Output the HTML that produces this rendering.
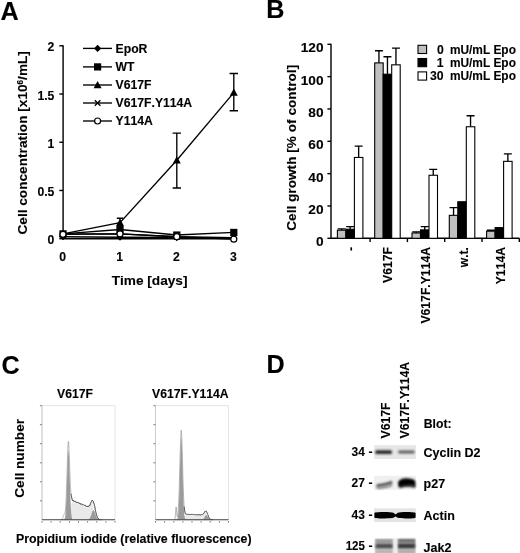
<!DOCTYPE html>
<html lang="en"><head><meta charset="utf-8"><title>Figure</title>
<style>
html,body{margin:0;padding:0;background:#fff;}
svg{display:block;}
text{font-kerning:none;font-feature-settings:'kern' 0;font-family:"Liberation Sans",Arial,Helvetica,sans-serif;font-weight:bold;fill:#000;stroke:#000;stroke-width:0.12px;}
.s{font-size:12.2px;}
.t{font-size:13.65px;}
.p{font-size:25.2px;}
.ln{stroke:#000;stroke-width:1.35;fill:none;}
.ax{stroke:#000;stroke-width:1.4;fill:none;}
</style></head><body>
<svg width="520" height="553" viewBox="0 0 520 553">
<defs>
<filter id="b1" x="-20%" y="-60%" width="140%" height="220%"><feGaussianBlur stdDeviation="0.9"/></filter>
<filter id="b2" x="-20%" y="-60%" width="140%" height="220%"><feGaussianBlur stdDeviation="1.3"/></filter>
<filter id="b0" x="-20%" y="-60%" width="140%" height="220%"><feGaussianBlur stdDeviation="0.6"/></filter>
</defs>
<rect width="520" height="553" fill="#fff"/>

<text class="p" x="0.5" y="19.7">A</text>
<text class="p" x="266.2" y="18.3">B</text>
<text class="p" x="1.5" y="374.2">C</text>
<text class="p" x="266.4" y="372.8">D</text>
<g id="panelA">
<path class="ax" d="M63.1 45.199999999999996V238.7H233.8"/>
<path class="ax" d="M59.300000000000004 238.70H63.1"/>
<text class="s" x="54.4" y="244.30" text-anchor="end">0</text>
<path class="ax" d="M59.300000000000004 190.47H63.1"/>
<text class="s" x="54.4" y="196.07" text-anchor="end">0.5</text>
<path class="ax" d="M59.300000000000004 142.25H63.1"/>
<text class="s" x="54.4" y="147.85" text-anchor="end">1</text>
<path class="ax" d="M59.300000000000004 94.03H63.1"/>
<text class="s" x="54.4" y="99.62" text-anchor="end">1.5</text>
<path class="ax" d="M59.300000000000004 45.80H63.1"/>
<text class="s" x="54.4" y="51.40" text-anchor="end">2</text>
<text class="s" x="62.7" y="260.6" text-anchor="middle">0</text>
<text class="s" x="119.7" y="260.6" text-anchor="middle">1</text>
<text class="s" x="176.5" y="260.6" text-anchor="middle">2</text>
<text class="s" x="233.5" y="260.6" text-anchor="middle">3</text>
<text class="t" x="149.6" y="285" text-anchor="middle">Time [days]</text>
<text class="t" transform="translate(27.2 142.8) rotate(-90)" text-anchor="middle">Cell concentration [x10<tspan font-size="8.2" dy="-4.6">6</tspan><tspan dy="4.6">/mL]</tspan></text>
<path class="ln" d="M233.8 73.5V110.7M229.60000000000002 73.5H238.0M229.60000000000002 110.7H238.0"/>
<path class="ln" d="M176.8 133.1V188.0M172.60000000000002 133.1H181.0M172.60000000000002 188.0H181.0"/>
<path class="ln" d="M120.0 218.2V227.5M116.8 218.2H123.2M116.8 227.5H123.2"/>
<polyline class="ln" stroke-width="1.3" points="63.0,236.77 120.0,237.25 176.8,237.54 233.8,238.70"/>
<polyline class="ln" stroke-width="1.3" points="63.0,233.88 120.0,229.54 176.8,235.03 233.8,232.43"/>
<polyline class="ln" stroke-width="1.3" points="63.0,233.88 120.0,222.69 176.8,160.19 233.8,92.58"/>
<polyline class="ln" stroke-width="1.3" points="63.0,233.88 120.0,233.88 176.8,236.77 233.8,237.74"/>
<polyline class="ln" stroke-width="1.3" points="63.0,234.36 120.0,233.88 176.8,236.77 233.8,239.18"/>
<path d="M63.0 233.17000000000002L66.6 236.77L63.0 240.37L59.4 236.77Z" fill="#000"/>
<path d="M120.0 233.65L123.6 237.25L120.0 240.85L116.4 237.25Z" fill="#000"/>
<path d="M176.8 233.94L180.4 237.54L176.8 241.14L173.20000000000002 237.54Z" fill="#000"/>
<path d="M233.8 235.1L237.4 238.7L233.8 242.29999999999998L230.20000000000002 238.7Z" fill="#000"/>
<rect x="59.40" y="230.28" width="7.2" height="7.2" fill="#000"/>
<rect x="116.40" y="225.94" width="7.2" height="7.2" fill="#000"/>
<rect x="173.20" y="231.43" width="7.2" height="7.2" fill="#000"/>
<rect x="230.20" y="228.83" width="7.2" height="7.2" fill="#000"/>
<path d="M63.0 229.88L67.0 237.07999999999998L59.0 237.07999999999998Z" fill="#000"/>
<path d="M120.0 218.69L124.0 225.89L116.0 225.89Z" fill="#000"/>
<path d="M176.8 156.19L180.8 163.39L172.8 163.39Z" fill="#000"/>
<path d="M233.8 88.58L237.8 95.78L229.8 95.78Z" fill="#000"/>
<path class="ln" stroke-width="1" d="M60.2 231.07999999999998L65.8 236.68M60.2 236.68L65.8 231.07999999999998"/>
<path class="ln" stroke-width="1" d="M117.2 231.07999999999998L122.8 236.68M117.2 236.68L122.8 231.07999999999998"/>
<path class="ln" stroke-width="1" d="M174.0 233.97L179.60000000000002 239.57000000000002M174.0 239.57000000000002L179.60000000000002 233.97"/>
<path class="ln" stroke-width="1" d="M231.0 234.94L236.60000000000002 240.54000000000002M231.0 240.54000000000002L236.60000000000002 234.94"/>
<circle cx="63.0" cy="234.36" r="3" fill="#fff" stroke="#000" stroke-width="1.2"/>
<circle cx="120.0" cy="233.88" r="3" fill="#fff" stroke="#000" stroke-width="1.2"/>
<circle cx="176.8" cy="236.77" r="3" fill="#fff" stroke="#000" stroke-width="1.2"/>
<circle cx="233.8" cy="239.18" r="3" fill="#fff" stroke="#000" stroke-width="1.2"/>
<path class="ln" d="M83 48.4H112"/>
<path d="M97.6 44.8L101.19999999999999 48.4L97.6 52.0L94.0 48.4Z" fill="#000"/>
<text class="s" x="115.6" y="52.8">EpoR</text>
<path class="ln" d="M83 66.9H112"/>
<rect x="94.00" y="63.30" width="7.2" height="7.2" fill="#000"/>
<text class="s" x="115.6" y="71.3">WT</text>
<path class="ln" d="M83 85.0H112"/>
<path d="M97.6 81.0L101.6 88.2L93.6 88.2Z" fill="#000"/>
<text class="s" x="115.6" y="89.4">V617F</text>
<path class="ln" d="M83 103.0H112"/>
<path class="ln" stroke-width="1" d="M94.8 100.2L100.39999999999999 105.8M94.8 105.8L100.39999999999999 100.2"/>
<text class="s" x="115.6" y="107.4">V617F.Y114A</text>
<path class="ln" d="M83 121.0H112"/>
<circle cx="97.6" cy="121.0" r="3" fill="#fff" stroke="#000" stroke-width="1.2"/>
<text class="s" x="115.6" y="125.4">Y114A</text>
</g>
<g id="panelB">
<path class="ax" d="M331.0 43.699999999999996V238.3H519.4"/>
<path class="ax" d="M327.4 238.30H331.0"/>
<text class="t" x="323.5" y="246.30" text-anchor="end">0</text>
<path class="ax" d="M327.4 205.97H331.0"/>
<text class="t" x="323.5" y="213.97" text-anchor="end">20</text>
<path class="ax" d="M327.4 173.63H331.0"/>
<text class="t" x="323.5" y="181.63" text-anchor="end">40</text>
<path class="ax" d="M327.4 141.30H331.0"/>
<text class="t" x="323.5" y="149.30" text-anchor="end">60</text>
<path class="ax" d="M327.4 108.97H331.0"/>
<text class="t" x="323.5" y="116.97" text-anchor="end">80</text>
<path class="ax" d="M327.4 76.63H331.0"/>
<text class="t" x="323.5" y="84.63" text-anchor="end">100</text>
<path class="ax" d="M327.4 44.30H331.0"/>
<text class="t" x="323.5" y="52.30" text-anchor="end">120</text>
<path class="ax" d="M370.10 238.3V242.10000000000002"/>
<path class="ax" d="M407.40 238.3V242.10000000000002"/>
<path class="ax" d="M444.70 238.3V242.10000000000002"/>
<path class="ax" d="M482.00 238.3V242.10000000000002"/>
<path class="ax" d="M519.30 238.3V242.10000000000002"/>
<text class="t" transform="translate(296.1 147.8) rotate(-90)" text-anchor="middle">Cell growth [% of control]</text>
<path class="ln" d="M341.65 230.22V228.92M337.65 228.92H345.65"/>
<rect x="337.40" y="230.22" width="8.5" height="8.08" fill="#c0c0c0" stroke="#000" stroke-width="1.1"/>
<path class="ln" d="M350.15 229.25V226.66M346.15 226.66H354.15"/>
<rect x="345.90" y="229.25" width="8.5" height="9.05" fill="#000" stroke="#000" stroke-width="1.1"/>
<path class="ln" d="M358.65 157.47V146.15M354.65 146.15H362.65"/>
<rect x="354.40" y="157.47" width="8.5" height="80.83" fill="#fff" stroke="#000" stroke-width="1.1"/>
<text class="s" transform="translate(354.75 247) rotate(-90)" text-anchor="end">-</text>
<path class="ln" d="M378.95 62.89V50.77M374.95 50.77H382.95"/>
<rect x="374.70" y="62.89" width="8.5" height="175.41" fill="#c0c0c0" stroke="#000" stroke-width="1.1"/>
<path class="ln" d="M387.45 74.21V56.75M383.45 56.75H391.45"/>
<rect x="383.20" y="74.21" width="8.5" height="164.09" fill="#000" stroke="#000" stroke-width="1.1"/>
<path class="ln" d="M395.95 64.83V48.18M391.95 48.18H399.95"/>
<rect x="391.70" y="64.83" width="8.5" height="173.47" fill="#fff" stroke="#000" stroke-width="1.1"/>
<text class="s" transform="translate(392.25 247) rotate(-90)" text-anchor="end">V617F</text>
<path class="ln" d="M416.25 232.97V231.83M412.25 231.83H420.25"/>
<rect x="412.00" y="232.97" width="8.5" height="5.34" fill="#c0c0c0" stroke="#000" stroke-width="1.1"/>
<path class="ln" d="M424.75 229.89V226.66M420.75 226.66H428.75"/>
<rect x="420.50" y="229.89" width="8.5" height="8.41" fill="#000" stroke="#000" stroke-width="1.1"/>
<path class="ln" d="M433.25 175.25V169.43M429.25 169.43H437.25"/>
<rect x="429.00" y="175.25" width="8.5" height="63.05" fill="#fff" stroke="#000" stroke-width="1.1"/>
<text class="s" transform="translate(430.15 247) rotate(-90)" text-anchor="end">V617F.Y114A</text>
<path class="ln" d="M453.55 215.34V207.58M449.55 207.58H457.55"/>
<rect x="449.30" y="215.34" width="8.5" height="22.96" fill="#c0c0c0" stroke="#000" stroke-width="1.1"/>
<rect x="457.80" y="201.76" width="8.5" height="36.54" fill="#000" stroke="#000" stroke-width="1.1"/>
<path class="ln" d="M470.55 126.75V115.76M466.55 115.76H474.55"/>
<rect x="466.30" y="126.75" width="8.5" height="111.55" fill="#fff" stroke="#000" stroke-width="1.1"/>
<text class="s" transform="translate(467.65 247) rotate(-90)" text-anchor="end">w.t.</text>
<path class="ln" d="M490.85 231.19V230.22M486.85 230.22H494.85"/>
<rect x="486.60" y="231.19" width="8.5" height="7.11" fill="#c0c0c0" stroke="#000" stroke-width="1.1"/>
<rect x="495.10" y="227.63" width="8.5" height="10.67" fill="#000" stroke="#000" stroke-width="1.1"/>
<path class="ln" d="M507.85 161.35V153.91M503.85 153.91H511.85"/>
<rect x="503.60" y="161.35" width="8.5" height="76.95" fill="#fff" stroke="#000" stroke-width="1.1"/>
<text class="s" transform="translate(505.15 247) rotate(-90)" text-anchor="end">Y114A</text>
<rect x="418.0" y="45.3" width="8.6" height="8.2" fill="#c0c0c0" stroke="#000" stroke-width="1.1"/>
<text class="s" x="443.9" y="53.7" text-anchor="end">0</text>
<text class="s" x="449.9" y="53.7" textLength="66" lengthAdjust="spacingAndGlyphs">mU/mL Epo</text>
<rect x="418.0" y="58.5" width="8.6" height="8.2" fill="#000" stroke="#000" stroke-width="1.1"/>
<text class="s" x="443.5" y="66.9" text-anchor="end">1</text>
<text class="s" x="449.9" y="66.9" textLength="66" lengthAdjust="spacingAndGlyphs">mU/mL Epo</text>
<rect x="418.0" y="71.9" width="8.6" height="8.2" fill="#fff" stroke="#000" stroke-width="1.1"/>
<text class="s" x="443.5" y="80.3" text-anchor="end">30</text>
<text class="s" x="449.9" y="80.3" textLength="66" lengthAdjust="spacingAndGlyphs">mU/mL Epo</text>
</g>
<g id="panelC">
<text class="s" x="75" y="397.7" text-anchor="middle">V617F</text>
<text class="s" x="190.4" y="398" text-anchor="middle">V617F.Y114A</text>
<text class="t" transform="translate(23.7 458.4) rotate(-90)" text-anchor="middle">Cell number</text>
<text class="s" x="16" y="542.6" textLength="235.5" lengthAdjust="spacingAndGlyphs">Propidium iodide (relative fluorescence)</text>
<rect x="42.0" y="405.7" width="73.0" height="114.09999999999997" fill="#fff" stroke="#dedede" stroke-width="0.8"/>
<path d="M42.0 405.7V519.8H115.0" stroke="#c4c4c4" stroke-width="0.8" fill="none"/>
<path d="M39.9 500.8h1.9" stroke="#6a6a6a" stroke-width="0.9"/>
<path d="M39.9 481.8h1.9" stroke="#6a6a6a" stroke-width="0.9"/>
<path d="M39.9 462.8h1.9" stroke="#6a6a6a" stroke-width="0.9"/>
<path d="M39.9 443.7h1.9" stroke="#6a6a6a" stroke-width="0.9"/>
<path d="M39.9 424.7h1.9" stroke="#6a6a6a" stroke-width="0.9"/>
<path d="M39.9 405.7h1.9" stroke="#6a6a6a" stroke-width="0.9"/>
<path d="M42.0 521.0v1.7" stroke="#777" stroke-width="0.9"/>
<path d="M51.1 521.0v1.7" stroke="#777" stroke-width="0.9"/>
<path d="M60.2 521.0v1.7" stroke="#777" stroke-width="0.9"/>
<path d="M69.4 521.0v1.7" stroke="#777" stroke-width="0.9"/>
<path d="M78.5 521.0v1.7" stroke="#777" stroke-width="0.9"/>
<path d="M87.6 521.0v1.7" stroke="#777" stroke-width="0.9"/>
<path d="M96.8 521.0v1.7" stroke="#777" stroke-width="0.9"/>
<path d="M105.9 521.0v1.7" stroke="#777" stroke-width="0.9"/>
<path d="M115.0 521.0v1.7" stroke="#777" stroke-width="0.9"/>
<path d="M70.60 519.70 L70.60 510.90 L71.10 506.01 L71.60 503.23 L72.10 502.19 L72.60 501.96 L73.10 502.02 L73.60 502.18 L74.10 502.37 L74.60 502.57 L75.10 502.78 L75.60 502.99 L76.10 503.20 L76.60 503.41 L77.10 503.62 L77.60 503.83 L78.10 504.04 L78.60 504.24 L79.10 504.45 L79.60 504.66 L80.10 504.87 L80.60 505.08 L81.10 505.29 L81.60 505.50 L82.10 505.71 L82.60 505.92 L83.10 506.13 L83.60 506.34 L84.10 506.54 L84.60 506.75 L85.10 506.96 L85.60 507.16 L86.10 507.35 L86.60 507.52 L87.10 507.65 L87.60 507.71 L88.10 507.67 L88.60 507.48 L89.10 507.09 L89.60 506.48 L90.10 505.64 L90.60 504.63 L91.10 503.54 L91.60 502.55 L92.10 501.86 L92.60 501.66 L93.10 502.11 L93.10 519.70Z" fill="#e9e9e9"/>
<path d="M60.50 519.70 L60.50 519.69 L60.75 519.67 L61.00 519.64 L61.25 519.59 L61.50 519.50 L61.75 519.36 L62.00 519.14 L62.25 518.82 L62.50 518.38 L62.75 517.83 L63.00 517.19 L63.25 516.48 L63.50 515.75 L63.75 515.08 L64.00 514.50 L64.25 514.01 L64.50 513.58 L64.75 513.08 L65.00 512.33 L65.25 511.11 L65.50 509.15 L65.75 506.20 L66.00 502.06 L66.25 496.63 L66.50 489.94 L66.75 482.18 L67.00 473.71 L67.25 465.08 L67.50 456.91 L67.75 449.90 L68.00 444.68 L68.25 441.76 L68.50 441.42 L68.75 443.65 L69.00 448.19 L69.25 454.50 L69.50 461.88 L69.75 469.53 L70.00 476.68 L70.25 482.74 L70.50 487.44 L70.75 490.88 L71.00 493.63 L71.25 495.26 L71.50 496.93 L71.75 497.89 L72.00 498.76 L72.25 499.92 L72.50 500.43 L72.75 500.02 L73.00 500.78 L73.25 500.98 L73.50 500.43 L73.75 501.03 L74.00 500.81 L74.25 501.25 L74.50 501.21 L74.75 501.75 L75.00 501.42 L75.25 501.31 L75.50 501.73 L75.75 501.64 L76.00 501.80 L76.25 502.45 L76.50 501.93 L76.75 502.19 L77.00 502.55 L77.25 502.90 L77.50 502.26 L77.75 502.71 L78.00 502.60 L78.25 502.56 L78.50 502.81 L78.75 502.73 L79.00 503.31 L79.25 503.05 L79.50 503.47 L79.75 503.13 L80.00 503.29 L80.25 504.10 L80.50 504.17 L80.75 504.20 L81.00 503.63 L81.25 504.21 L81.50 504.14 L81.75 504.54 L82.00 504.46 L82.25 504.67 L82.50 504.81 L82.75 504.70 L83.00 504.81 L83.25 504.62 L83.50 504.93 L83.75 504.81 L84.00 504.98 L84.25 504.96 L84.50 505.36 L84.75 505.92 L85.00 505.39 L85.25 505.40 L85.50 505.56 L85.75 505.96 L86.00 505.92 L86.25 506.46 L86.50 505.99 L86.75 506.30 L87.00 506.62 L87.25 506.87 L87.50 506.19 L87.75 506.07 L88.00 506.86 L88.25 506.16 L88.50 506.41 L88.75 506.50 L89.00 506.17 L89.25 505.49 L89.50 505.09 L89.75 505.46 L90.00 504.52 L90.25 504.56 L90.50 503.44 L90.75 503.25 L91.00 502.21 L91.25 501.59 L91.50 501.53 L91.75 500.66 L92.00 500.94 L92.25 500.92 L92.50 500.37 L92.75 500.95 L93.00 501.04 L93.25 501.26 L93.50 501.68 L93.75 502.85 L94.00 503.87 L94.25 504.17 L94.50 505.83 L94.75 506.48 L95.00 507.80 L95.25 509.54 L95.50 510.72 L95.75 511.86 L96.00 512.87 L96.25 513.95 L96.50 514.91 L96.75 515.67 L97.00 516.10 L97.25 517.10 L97.50 517.68 L97.75 517.85 L98.00 518.63 L98.25 518.86 L98.50 518.48 L98.75 519.07 L99.00 519.18 L99.25 519.78 L99.50 519.50 L99.75 519.42 L100.00 519.97 L100.25 519.47 L100.50 519.49 L100.75 520.02 L101.00 519.53 L101.25 519.69 L101.50 519.50 L101.50 519.70Z" fill="none" stroke="#9a9a9a" stroke-width="0.7" stroke-linejoin="round"/>
<path d="M64.20 519.70 L64.20 519.33 L64.40 519.09 L64.60 518.74 L64.80 518.21 L65.00 517.44 L65.20 516.36 L65.40 514.89 L65.60 512.92 L65.80 510.36 L66.00 507.15 L66.20 503.22 L66.40 498.57 L66.60 493.24 L66.80 487.35 L67.00 481.06 L67.20 474.64 L67.40 468.37 L67.60 462.60 L67.80 457.67 L68.00 453.89 L68.20 451.51 L68.40 450.70 L68.60 451.51 L68.80 453.89 L69.00 457.67 L69.20 462.60 L69.40 468.37 L69.60 474.64 L69.80 481.06 L70.00 487.35 L70.20 493.24 L70.40 498.57 L70.60 503.22 L70.80 507.15 L71.00 510.36 L71.20 512.92 L71.40 514.89 L71.60 516.36 L71.80 517.44 L72.00 518.21 L72.20 518.74 L72.40 519.09 L72.60 519.33 L72.60 519.70Z" fill="#9b9b9b"/>
<path d="M87.90 519.70 L87.90 519.55 L88.15 519.49 L88.40 519.40 L88.65 519.28 L88.90 519.12 L89.15 518.91 L89.40 518.65 L89.65 518.33 L89.90 517.94 L90.15 517.48 L90.40 516.94 L90.65 516.33 L90.90 515.66 L91.15 514.94 L91.40 514.18 L91.65 513.42 L91.90 512.67 L92.15 511.97 L92.40 511.34 L92.65 510.82 L92.90 510.43 L93.15 510.18 L93.40 510.10 L93.65 510.18 L93.90 510.43 L94.15 510.82 L94.40 511.34 L94.65 511.97 L94.90 512.67 L95.15 513.42 L95.40 514.18 L95.65 514.94 L95.90 515.66 L96.15 516.33 L96.40 516.94 L96.65 517.48 L96.90 517.94 L97.15 518.33 L97.40 518.65 L97.65 518.91 L97.90 519.12 L98.15 519.28 L98.40 519.40 L98.65 519.49 L98.90 519.55 L98.90 519.70Z" fill="#9b9b9b"/>
<path d="M71.00 493.63 L71.25 495.26 L71.50 496.93 L71.75 497.89 L72.00 498.76 L72.25 499.92 L72.50 500.43 L72.75 500.02 L73.00 500.78 L73.25 500.98 L73.50 500.43 L73.75 501.03 L74.00 500.81 L74.25 501.25 L74.50 501.21 L74.75 501.75 L75.00 501.42 L75.25 501.31 L75.50 501.73 L75.75 501.64 L76.00 501.80 L76.25 502.45 L76.50 501.93 L76.75 502.19 L77.00 502.55 L77.25 502.90 L77.50 502.26 L77.75 502.71 L78.00 502.60 L78.25 502.56 L78.50 502.81 L78.75 502.73 L79.00 503.31 L79.25 503.05 L79.50 503.47 L79.75 503.13 L80.00 503.29 L80.25 504.10 L80.50 504.17 L80.75 504.20 L81.00 503.63 L81.25 504.21 L81.50 504.14 L81.75 504.54 L82.00 504.46 L82.25 504.67 L82.50 504.81 L82.75 504.70 L83.00 504.81 L83.25 504.62 L83.50 504.93 L83.75 504.81 L84.00 504.98 L84.25 504.96 L84.50 505.36 L84.75 505.92 L85.00 505.39 L85.25 505.40 L85.50 505.56 L85.75 505.96 L86.00 505.92 L86.25 506.46 L86.50 505.99 L86.75 506.30 L87.00 506.62 L87.25 506.87 L87.50 506.19 L87.75 506.07 L88.00 506.86 L88.25 506.16 L88.50 506.41 L88.75 506.50 L89.00 506.17 L89.25 505.49 L89.50 505.09 L89.75 505.46 L90.00 504.52 L90.25 504.56 L90.50 503.44 L90.75 503.25 L91.00 502.21 L91.25 501.59 L91.50 501.53 L91.75 500.66 L92.00 500.94 L92.25 500.92 L92.50 500.37 L92.75 500.95 L93.00 501.04 L93.25 501.26 L93.50 501.68 L93.75 502.85 L94.00 503.87 L94.25 504.17 L94.50 505.83 L94.75 506.48 L95.00 507.80 L95.25 509.54 L95.50 510.72 L95.75 511.86 L96.00 512.87 L96.25 513.95 L96.50 514.91 L96.75 515.67 L97.00 516.10 L97.25 517.10 L97.50 517.68 L97.75 517.85 L98.00 518.63 L98.25 518.86 L98.50 518.48 L98.75 519.07 L99.00 519.18 L99.25 519.78 L99.50 519.50 L99.75 519.42 L100.00 519.97 L100.25 519.47 L100.50 519.49 L100.75 520.02 L101.00 519.53 L101.25 519.69 L101.50 519.50" fill="none" stroke="#4a4a4a" stroke-width="0.85" stroke-linejoin="round"/>
<path d="M42.0 519.7H115.0" stroke="#4a4a4a" stroke-width="0.9"/>
<rect x="155.5" y="405.7" width="73.0" height="114.09999999999997" fill="#fff" stroke="#dedede" stroke-width="0.8"/>
<path d="M155.5 405.7V519.8H228.5" stroke="#c4c4c4" stroke-width="0.8" fill="none"/>
<path d="M153.4 500.8h1.9" stroke="#6a6a6a" stroke-width="0.9"/>
<path d="M153.4 481.8h1.9" stroke="#6a6a6a" stroke-width="0.9"/>
<path d="M153.4 462.8h1.9" stroke="#6a6a6a" stroke-width="0.9"/>
<path d="M153.4 443.7h1.9" stroke="#6a6a6a" stroke-width="0.9"/>
<path d="M153.4 424.7h1.9" stroke="#6a6a6a" stroke-width="0.9"/>
<path d="M153.4 405.7h1.9" stroke="#6a6a6a" stroke-width="0.9"/>
<path d="M155.5 521.0v1.7" stroke="#777" stroke-width="0.9"/>
<path d="M164.6 521.0v1.7" stroke="#777" stroke-width="0.9"/>
<path d="M173.8 521.0v1.7" stroke="#777" stroke-width="0.9"/>
<path d="M182.9 521.0v1.7" stroke="#777" stroke-width="0.9"/>
<path d="M192.0 521.0v1.7" stroke="#777" stroke-width="0.9"/>
<path d="M201.1 521.0v1.7" stroke="#777" stroke-width="0.9"/>
<path d="M210.2 521.0v1.7" stroke="#777" stroke-width="0.9"/>
<path d="M219.4 521.0v1.7" stroke="#777" stroke-width="0.9"/>
<path d="M228.5 521.0v1.7" stroke="#777" stroke-width="0.9"/>
<path d="M183.40 519.70 L183.40 518.10 L183.90 516.71 L184.40 515.89 L184.90 515.56 L185.40 515.46 L185.90 515.44 L186.40 515.45 L186.90 515.47 L187.40 515.50 L187.90 515.52 L188.40 515.54 L188.90 515.57 L189.40 515.59 L189.90 515.62 L190.40 515.64 L190.90 515.67 L191.40 515.69 L191.90 515.71 L192.40 515.74 L192.90 515.76 L193.40 515.79 L193.90 515.81 L194.40 515.84 L194.90 515.86 L195.40 515.89 L195.90 515.91 L196.40 515.93 L196.90 515.96 L197.40 515.98 L197.90 516.01 L198.40 516.03 L198.90 516.06 L199.40 516.08 L199.90 516.10 L200.40 516.11 L200.90 516.11 L201.40 516.08 L201.90 516.00 L202.40 515.81 L202.90 515.50 L203.40 515.02 L203.90 514.38 L204.40 513.66 L204.90 512.96 L205.40 512.46 L205.90 512.32 L205.90 519.70Z" fill="#e9e9e9"/>
<path d="M174.20 519.70 L174.20 519.69 L174.45 519.66 L174.70 519.51 L174.95 518.98 L175.20 517.59 L175.45 514.89 L175.70 511.14 L175.95 507.83 L176.20 506.85 L176.45 508.77 L176.70 512.23 L176.95 515.22 L177.20 516.65 L177.45 516.49 L177.70 515.18 L177.95 513.01 L178.20 510.08 L178.45 506.34 L178.70 501.69 L178.95 496.01 L179.20 489.18 L179.45 481.20 L179.70 472.23 L179.95 462.68 L180.20 453.15 L180.45 444.40 L180.70 437.22 L180.95 432.32 L181.20 430.20 L181.45 431.10 L181.70 434.91 L181.95 441.24 L182.20 449.46 L182.45 458.80 L182.70 468.45 L182.95 477.69 L183.20 485.98 L183.45 493.02 L183.70 498.77 L183.95 503.22 L184.20 506.60 L184.45 509.10 L184.70 510.82 L184.95 512.13 L185.20 512.84 L185.45 513.78 L185.70 513.87 L185.95 513.81 L186.20 514.07 L186.45 514.00 L186.70 514.43 L186.95 514.28 L187.20 514.41 L187.45 514.27 L187.70 514.27 L187.95 514.57 L188.20 514.48 L188.45 514.46 L188.70 514.15 L188.95 514.24 L189.20 514.55 L189.45 514.25 L189.70 514.59 L189.95 514.36 L190.20 514.62 L190.45 514.69 L190.70 514.27 L190.95 514.61 L191.20 514.62 L191.45 514.25 L191.70 514.32 L191.95 514.62 L192.20 514.30 L192.45 514.52 L192.70 514.46 L192.95 514.71 L193.20 514.36 L193.45 514.49 L193.70 514.37 L193.95 514.42 L194.20 514.73 L194.45 514.71 L194.70 514.82 L194.95 514.84 L195.20 514.89 L195.45 514.79 L195.70 514.65 L195.95 514.96 L196.20 514.64 L196.45 514.82 L196.70 514.84 L196.95 514.60 L197.20 514.78 L197.45 514.88 L197.70 514.81 L197.95 514.71 L198.20 515.04 L198.45 514.60 L198.70 515.08 L198.95 514.73 L199.20 514.70 L199.45 515.12 L199.70 514.75 L199.95 514.97 L200.20 514.87 L200.45 515.16 L200.70 515.14 L200.95 515.07 L201.20 514.67 L201.45 515.03 L201.70 514.71 L201.95 514.57 L202.20 514.48 L202.45 514.67 L202.70 514.51 L202.95 514.24 L203.20 513.89 L203.45 513.96 L203.70 513.33 L203.95 512.97 L204.20 512.57 L204.45 512.61 L204.70 511.80 L204.95 511.90 L205.20 511.50 L205.45 511.17 L205.70 510.92 L205.95 511.21 L206.20 511.04 L206.45 511.48 L206.70 511.96 L206.95 512.43 L207.20 513.07 L207.45 513.75 L207.70 514.39 L207.95 514.80 L208.20 515.33 L208.45 516.40 L208.70 517.05 L208.95 517.11 L209.20 517.81 L209.45 518.26 L209.70 518.68 L209.95 518.76 L210.20 518.86 L210.45 519.21 L210.70 519.35 L210.95 519.63 L211.20 519.27 L211.45 519.77 L211.70 519.58 L211.95 519.44 L212.20 519.82 L212.45 519.53 L212.70 519.44 L212.95 519.60 L212.95 519.70Z" fill="none" stroke="#9a9a9a" stroke-width="0.7" stroke-linejoin="round"/>
<path d="M177.05 519.70 L177.05 519.26 L177.25 518.98 L177.45 518.56 L177.65 517.93 L177.85 517.02 L178.05 515.74 L178.25 513.98 L178.45 511.64 L178.65 508.60 L178.85 504.78 L179.05 500.11 L179.25 494.59 L179.45 488.26 L179.65 481.25 L179.85 473.78 L180.05 466.15 L180.25 458.70 L180.45 451.85 L180.65 445.98 L180.85 441.49 L181.05 438.66 L181.25 437.70 L181.45 438.66 L181.65 441.49 L181.85 445.98 L182.05 451.85 L182.25 458.70 L182.45 466.15 L182.65 473.78 L182.85 481.25 L183.05 488.26 L183.25 494.59 L183.45 500.11 L183.65 504.78 L183.85 508.60 L184.05 511.64 L184.25 513.98 L184.45 515.74 L184.65 517.02 L184.85 517.93 L185.05 518.56 L185.25 518.98 L185.45 519.26 L185.45 519.70Z" fill="#9b9b9b"/>
<path d="M200.80 519.70 L200.80 519.69 L201.05 519.68 L201.30 519.67 L201.55 519.64 L201.80 519.61 L202.05 519.56 L202.30 519.50 L202.55 519.40 L202.80 519.28 L203.05 519.12 L203.30 518.91 L203.55 518.65 L203.80 518.34 L204.05 517.99 L204.30 517.59 L204.55 517.17 L204.80 516.74 L205.05 516.31 L205.30 515.92 L205.55 515.58 L205.80 515.32 L206.05 515.16 L206.30 515.10 L206.55 515.16 L206.80 515.32 L207.05 515.58 L207.30 515.92 L207.55 516.31 L207.80 516.74 L208.05 517.17 L208.30 517.59 L208.55 517.99 L208.80 518.34 L209.05 518.65 L209.30 518.91 L209.55 519.12 L209.80 519.28 L210.05 519.40 L210.30 519.50 L210.55 519.56 L210.80 519.61 L211.05 519.64 L211.30 519.67 L211.55 519.68 L211.80 519.69 L211.80 519.70Z" fill="#9b9b9b"/>
<path d="M184.20 506.60 L184.45 509.10 L184.70 510.82 L184.95 512.13 L185.20 512.84 L185.45 513.78 L185.70 513.87 L185.95 513.81 L186.20 514.07 L186.45 514.00 L186.70 514.43 L186.95 514.28 L187.20 514.41 L187.45 514.27 L187.70 514.27 L187.95 514.57 L188.20 514.48 L188.45 514.46 L188.70 514.15 L188.95 514.24 L189.20 514.55 L189.45 514.25 L189.70 514.59 L189.95 514.36 L190.20 514.62 L190.45 514.69 L190.70 514.27 L190.95 514.61 L191.20 514.62 L191.45 514.25 L191.70 514.32 L191.95 514.62 L192.20 514.30 L192.45 514.52 L192.70 514.46 L192.95 514.71 L193.20 514.36 L193.45 514.49 L193.70 514.37 L193.95 514.42 L194.20 514.73 L194.45 514.71 L194.70 514.82 L194.95 514.84 L195.20 514.89 L195.45 514.79 L195.70 514.65 L195.95 514.96 L196.20 514.64 L196.45 514.82 L196.70 514.84 L196.95 514.60 L197.20 514.78 L197.45 514.88 L197.70 514.81 L197.95 514.71 L198.20 515.04 L198.45 514.60 L198.70 515.08 L198.95 514.73 L199.20 514.70 L199.45 515.12 L199.70 514.75 L199.95 514.97 L200.20 514.87 L200.45 515.16 L200.70 515.14 L200.95 515.07 L201.20 514.67 L201.45 515.03 L201.70 514.71 L201.95 514.57 L202.20 514.48 L202.45 514.67 L202.70 514.51 L202.95 514.24 L203.20 513.89 L203.45 513.96 L203.70 513.33 L203.95 512.97 L204.20 512.57 L204.45 512.61 L204.70 511.80 L204.95 511.90 L205.20 511.50 L205.45 511.17 L205.70 510.92 L205.95 511.21 L206.20 511.04 L206.45 511.48 L206.70 511.96 L206.95 512.43 L207.20 513.07 L207.45 513.75 L207.70 514.39 L207.95 514.80 L208.20 515.33 L208.45 516.40 L208.70 517.05 L208.95 517.11 L209.20 517.81 L209.45 518.26 L209.70 518.68 L209.95 518.76 L210.20 518.86 L210.45 519.21 L210.70 519.35 L210.95 519.63 L211.20 519.27 L211.45 519.77 L211.70 519.58 L211.95 519.44 L212.20 519.82 L212.45 519.53 L212.70 519.44 L212.95 519.60" fill="none" stroke="#4a4a4a" stroke-width="0.85" stroke-linejoin="round"/>
<path d="M155.5 519.7H228.5" stroke="#4a4a4a" stroke-width="0.9"/>
</g>
<g id="panelD">
<text class="s" transform="translate(390.4 438.4) rotate(-90)">V617F</text>
<text class="s" transform="translate(408.8 438.4) rotate(-90)">V617F.Y114A</text>
<text class="s" x="423.8" y="428.1">Blot:</text>
<text class="s" style="font-size:12.5px" x="423.6" y="456.8">Cyclin D2</text>
<text class="s" style="font-size:12.4px" x="351.6" y="456.2" textLength="13.3" lengthAdjust="spacingAndGlyphs">34</text>
<text class="s" x="368.5" y="455.8">-</text>
<text class="s" style="font-size:12.5px" x="423.6" y="488.0">p27</text>
<text class="s" style="font-size:12.4px" x="351.6" y="486.6" textLength="13.3" lengthAdjust="spacingAndGlyphs">27</text>
<text class="s" x="368.5" y="486.5">-</text>
<text class="s" style="font-size:12.5px" x="423.6" y="519.8">Actin</text>
<text class="s" style="font-size:12.4px" x="351.6" y="518.8" textLength="13.3" lengthAdjust="spacingAndGlyphs">43</text>
<text class="s" x="368.5" y="518.5">-</text>
<text class="s" style="font-size:12.5px" x="423.6" y="552.0">Jak2</text>
<text class="s" style="font-size:12.4px" x="345.7" y="550.4" textLength="19.2" lengthAdjust="spacingAndGlyphs">125</text>
<text class="s" x="368.5" y="549.7">-</text>
<rect x="374.2" y="445.2" width="41.6" height="13.8" fill="#e6e6e6" filter="url(#b0)"/>
<rect x="375.2" y="450.2" width="16.8" height="3.9" rx="1.6" fill="#2c2c2c" filter="url(#b1)"/>
<rect x="398.2" y="450.6" width="16.4" height="2.9" rx="1.3" fill="#5e5e5e" filter="url(#b1)"/>
<rect x="374.2" y="475.8" width="41.6" height="14" fill="#f0f0f0" filter="url(#b0)"/>
<path d="M376.4 484.2C381 483.8 387 482.6 392 480.4L392.2 484.4C387 486 381 487.2 376.6 487.4Z" fill="#5a5a5a" filter="url(#b1)"/>
<path d="M376.8 487C381 486.8 387 485.8 391.6 484L391.6 486.6C387 488.2 381 489.2 377 489Z" fill="#8c8c8c" filter="url(#b1)"/>
<path d="M399.4 484C404 483 411 483 415.2 485L415.2 488C410 486.6 404 486.8 400 488.4Z" fill="#4a4a4a" filter="url(#b2)"/>
<path d="M398 482.2C400 477.3 409 477 415.2 480.4L415.4 486.6C411 484.6 403 485 398.8 487.4Z" fill="#060606" filter="url(#b1)"/>
<rect x="374.2" y="508.3" width="41.6" height="13.8" fill="#e4e4e4" filter="url(#b0)"/>
<path d="M374.4 513C374.4 511.8 391 511.6 393.4 512.8L395.6 514.4L397.8 512.8C400 511.6 415.6 511.8 415.6 513V517.4C415.6 518.6 400 518.8 397.8 517.8L395.6 516.4L393.4 517.8C391 518.8 374.4 518.6 374.4 517.4Z" fill="#000" filter="url(#b0)"/>
<rect x="374.2" y="538.3" width="41.6" height="14.7" fill="#eeeeee"/>
<rect x="375.2" y="538.8" width="17.6" height="14.4" fill="#cfcfcf" filter="url(#b0)"/>
<rect x="397.8" y="538.8" width="17.6" height="14.4" fill="#cacaca" filter="url(#b0)"/>
<rect x="375.8" y="539.8" width="16.6" height="2.6" fill="#858585" filter="url(#b1)"/>
<rect x="375.6" y="543.6" width="17" height="4.8" fill="#4c4c4c" filter="url(#b1)"/>
<rect x="376" y="550.4" width="16.4" height="2.2" fill="#a8a8a8" filter="url(#b1)"/>
<rect x="398.2" y="539.4" width="16.8" height="3" fill="#5c5c5c" filter="url(#b1)"/>
<rect x="398" y="543.4" width="17.2" height="5" fill="#3a3a3a" filter="url(#b1)"/>
<rect x="398.4" y="550.4" width="16.6" height="2.2" fill="#a0a0a0" filter="url(#b1)"/>
</g>
</svg>
</body></html>
